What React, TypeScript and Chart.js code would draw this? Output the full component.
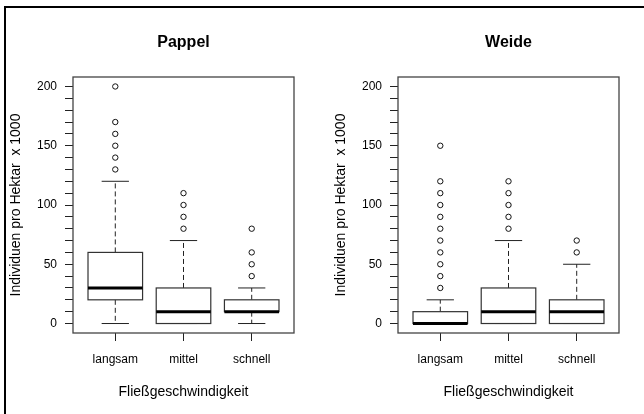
import React, { useEffect, useRef } from "react";
import { Chart, registerables } from "chart.js";

Chart.register(...registerables);

// ---------- data ----------
const categories = ["langsam", "mittel", "schnell"];
const yTickValues = [0, 10, 20, 30, 40, 50, 60, 70, 80, 90, 100, 110, 120, 130, 140, 150, 160, 170, 180, 190, 200];
const yLabelValues = [0, 50, 100, 150, 200];

const pappelTitle = "Pappel";
const pappelLow = [0, 0, 0];
const pappelQ1 = [20, 0, 10];
const pappelMedian = [30, 10, 10];
const pappelQ3 = [60, 30, 20];
const pappelHigh = [120, 70, 30];
const pappelOutliers = [
  [130, 140, 150, 160, 170, 200],
  [80, 90, 100, 110],
  [40, 50, 60, 80],
];

const weideTitle = "Weide";
const weideLow = [0, 0, 0];
const weideQ1 = [0, 0, 0];
const weideMedian = [0, 10, 10];
const weideQ3 = [10, 30, 20];
const weideHigh = [20, 70, 50];
const weideOutliers = [
  [30, 40, 50, 60, 70, 80, 90, 100, 110, 120, 150],
  [80, 90, 100, 110, 120],
  [60, 70],
];

const yTitle = "Individuen pro Hektar  x 1000";
const xTitle = "Fließgeschwindigkeit";

// ---------- style ----------
const FONT = "'Liberation Sans', Arial, sans-serif";
const BOX_WIDTH = 0.8;
const CAP_WIDTH = 0.4;

type Panel = {
  title: string;
  low: number[];
  q1: number[];
  median: number[];
  q3: number[];
  high: number[];
  outliers: number[][];
};

const boxPlugin = (p: Panel) => ({
  id: "boxes",
  beforeDatasetsDraw(chart: any) {
    const ctx = chart.ctx;
    const xs = chart.scales.x;
    const ys = chart.scales.y;
    ctx.save();
    for (let i = 0; i < categories.length; i++) {
      const c = i + 1;
      const xl = xs.getPixelForValue(c - BOX_WIDTH / 2);
      const xr = xs.getPixelForValue(c + BOX_WIDTH / 2);
      const xc = xs.getPixelForValue(c);
      const cl = xs.getPixelForValue(c - CAP_WIDTH / 2);
      const cr = xs.getPixelForValue(c + CAP_WIDTH / 2);
      const yLow = ys.getPixelForValue(p.low[i]);
      const yQ1 = ys.getPixelForValue(p.q1[i]);
      const yMed = ys.getPixelForValue(p.median[i]);
      const yQ3 = ys.getPixelForValue(p.q3[i]);
      const yHigh = ys.getPixelForValue(p.high[i]);

      // whiskers (dashed)
      ctx.strokeStyle = "#222";
      ctx.lineWidth = 1;
      ctx.setLineDash([5, 3]);
      ctx.beginPath();
      ctx.moveTo(xc, yQ3);
      ctx.lineTo(xc, yHigh);
      ctx.moveTo(xc, yQ1);
      ctx.lineTo(xc, yLow);
      ctx.stroke();
      ctx.setLineDash([]);
      // caps
      ctx.beginPath();
      ctx.moveTo(cl, yHigh);
      ctx.lineTo(cr, yHigh);
      ctx.moveTo(cl, yLow);
      ctx.lineTo(cr, yLow);
      ctx.stroke();
      // box
      ctx.fillStyle = "#fff";
      ctx.fillRect(xl, yQ3, xr - xl, yQ1 - yQ3);
      ctx.strokeStyle = "#333";
      ctx.lineWidth = 1.2;
      ctx.strokeRect(xl, yQ3, xr - xl, yQ1 - yQ3);
      // median
      ctx.strokeStyle = "#000";
      ctx.lineWidth = 3;
      ctx.beginPath();
      ctx.moveTo(xl, yMed);
      ctx.lineTo(xr, yMed);
      ctx.stroke();
    }
    ctx.restore();
  },
  afterDraw(chart: any) {
    const { ctx, chartArea } = chart;
    ctx.save();
    ctx.strokeStyle = "#444";
    ctx.lineWidth = 1.3;
    ctx.strokeRect(chartArea.left, chartArea.top, chartArea.right - chartArea.left, chartArea.bottom - chartArea.top);
    ctx.restore();
  },
});

function makeConfig(p: Panel): any {
  const points: { x: number; y: number }[] = [];
  p.outliers.forEach((arr, i) => arr.forEach((v) => points.push({ x: i + 1, y: v })));
  return {
    type: "scatter",
    data: {
      datasets: [
        {
          data: points,
          pointStyle: "circle",
          pointRadius: 2.7,
          pointBorderWidth: 1,
          pointBorderColor: "#111",
          pointBackgroundColor: "rgba(0,0,0,0)",
        },
      ],
    },
    plugins: [boxPlugin(p)],
    options: {
      animation: false,
      responsive: false,
      maintainAspectRatio: false,
      events: [],
      layout: { padding: { left: 0, right: 28, top: 0, bottom: 0 } },
      plugins: {
        legend: { display: false },
        tooltip: { enabled: false },
        title: {
          display: true,
          text: p.title,
          fullSize: false,
          color: "#000",
          font: { family: FONT, size: 16, weight: "bold", lineHeight: 1.2 },
          padding: { top: 33.4, bottom: 24.4 },
        },
      },
      scales: {
        x: {
          type: "linear",
          min: 0.38,
          max: 3.62,
          afterBuildTicks: (scale: any) => {
            scale.ticks = categories.map((_, i) => ({ value: i + 1 }));
          },
          afterFit: (scale: any) => {
            scale.height = 81;
          },
          border: { display: false },
          grid: {
            display: true,
            drawOnChartArea: false,
            drawTicks: true,
            tickLength: 8,
            color: "#222",
            lineWidth: 1,
          },
          ticks: {
            autoSkip: false,
            maxRotation: 0,
            minRotation: 0,
            padding: 11,
            color: "#000",
            font: { family: FONT, size: 12 },
            callback: (v: number) => categories[Math.round(v) - 1] ?? "",
          },
          title: {
            display: true,
            text: xTitle,
            color: "#000",
            font: { family: FONT, size: 14, lineHeight: 1.2 },
            padding: { top: 0, bottom: 13 },
          },
        },
        y: {
          type: "linear",
          min: -8,
          max: 208,
          afterBuildTicks: (scale: any) => {
            scale.ticks = yTickValues.map((v) => ({ value: v }));
          },
          afterFit: (scale: any) => {
            scale.width = 73;
          },
          border: { display: false },
          grid: {
            display: true,
            drawOnChartArea: false,
            drawTicks: true,
            tickLength: 8,
            color: "#222",
            lineWidth: 1,
          },
          ticks: {
            autoSkip: false,
            padding: 8,
            color: "#000",
            font: { family: FONT, size: 12 },
            callback: (v: number) => (yLabelValues.includes(v) ? String(v) : ""),
          },
          title: {
            display: true,
            text: yTitle,
            color: "#000",
            font: { family: FONT, size: 14, lineHeight: 1.2 },
            padding: { top: 8, bottom: 0 },
          },
        },
      },
    },
  };
}

function BoxPanel({ panel, left }: { panel: Panel; left: number }) {
  const ref = useRef<HTMLCanvasElement | null>(null);
  useEffect(() => {
    if (!ref.current) return;
    const chart = new Chart(ref.current, makeConfig(panel));
    return () => chart.destroy();
  }, [panel]);
  return (
    <canvas
      ref={ref}
      width={322}
      height={414}
      style={{ position: "absolute", left, top: 0, width: 322, height: 414 }}
    />
  );
}

const pappel: Panel = {
  title: pappelTitle,
  low: pappelLow,
  q1: pappelQ1,
  median: pappelMedian,
  q3: pappelQ3,
  high: pappelHigh,
  outliers: pappelOutliers,
};
const weide: Panel = {
  title: weideTitle,
  low: weideLow,
  q1: weideQ1,
  median: weideMedian,
  q3: weideQ3,
  high: weideHigh,
  outliers: weideOutliers,
};

export default function App() {
  return (
    <div
      style={{
        position: "fixed",
        left: 0,
        top: 0,
        width: 644,
        height: 414,
        overflow: "hidden",
        background: "#fff",
      }}
    >
      <BoxPanel panel={pappel} left={0} />
      <BoxPanel panel={weide} left={325} />
      <div
        style={{
          position: "absolute",
          left: 4,
          top: 6,
          width: 660,
          height: 430,
          borderTop: "2px solid #000",
          borderLeft: "2px solid #000",
          boxSizing: "border-box",
        }}
      />
    </div>
  );
}
